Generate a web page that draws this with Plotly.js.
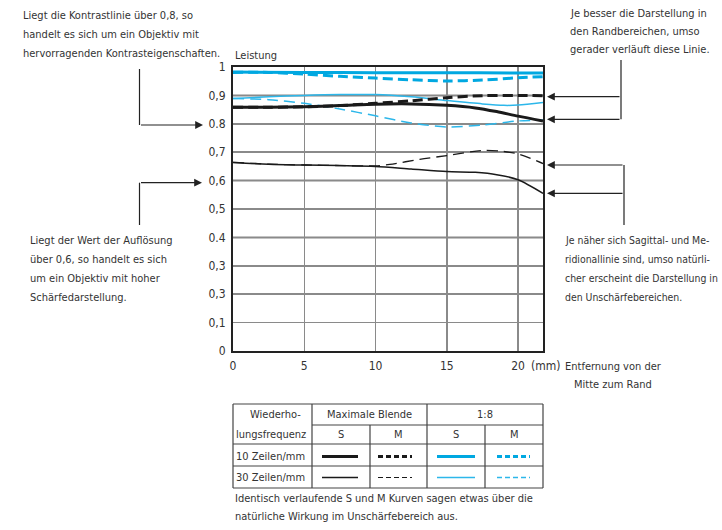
<!DOCTYPE html>
<html>
<head>
<meta charset="utf-8">
<script src="https://cdn.plot.ly/plotly-3.0.1.min.js"></script>
<style>html,body{margin:0;padding:0;background:#fff;}#chart{width:722px;height:530px;}</style>
</head>
<body>
<div id="chart"></div>
<script>
// ---- data ----
const xTicks = [0, 5, 10, 15, 20];
const xTickLabels = ["0", "5", "10", "15", "20"];
const yTicks = [0, 0.1, 0.2, 0.3, 0.4, 0.5, 0.6, 0.7, 0.8, 0.9, 1];
const yTickLabels = ["0", "0,1", "0,3", "0,3", "0.4", "0,5", "0,6", "0,7", "0.8", "0,9", "1"];
const blackGridY = [0.2, 0.4, 0.6, 0.8, 0.9];

const xS10max = [0, 2.5, 5, 7.5, 10, 12.5, 15, 17, 18.5, 20, 21.75];
const yS10max = [0.858, 0.858, 0.860, 0.864, 0.869, 0.870, 0.865, 0.856, 0.843, 0.827, 0.810];
const xM10max = [0, 2.5, 5, 7.5, 10, 12.5, 15, 17.5, 20, 21.75];
const yM10max = [0.858, 0.858, 0.860, 0.864, 0.872, 0.881, 0.892, 0.899, 0.900, 0.899];
const xS30max = [0, 2.5, 5, 7.5, 10, 12.5, 15, 17, 18.5, 20, 21.75];
const yS30max = [0.664, 0.658, 0.655, 0.653, 0.650, 0.641, 0.632, 0.629, 0.621, 0.603, 0.555];
const xM30max = [0, 2.5, 5, 7.5, 10, 11, 13.1, 15, 17.5, 18.7, 20, 21.75];
const yM30max = [0.664, 0.658, 0.655, 0.653, 0.652, 0.657, 0.675, 0.688, 0.706, 0.704, 0.694, 0.660];

const xS10f8 = [0, 5, 10, 15, 20, 21.75];
const yS10f8 = [0.982, 0.981, 0.980, 0.980, 0.979, 0.979];
const xM10f8 = [0, 2.5, 5, 7.5, 10, 12.5, 15, 17.5, 20, 21.75];
const yM10f8 = [0.981, 0.981, 0.975, 0.967, 0.961, 0.955, 0.951, 0.954, 0.962, 0.966];
const xS30f8 = [0, 2.5, 5, 7.5, 10, 12.5, 15, 17.5, 19, 20, 21.75];
const yS30f8 = [0.889, 0.895, 0.900, 0.903, 0.903, 0.895, 0.882, 0.870, 0.865, 0.866, 0.875];
const xM30f8 = [0, 2.5, 5, 7.5, 10, 12.5, 15, 17.5, 20, 21.75];
const yM30f8 = [0.889, 0.885, 0.872, 0.852, 0.828, 0.803, 0.789, 0.796, 0.810, 0.813];

// ---- styles ----
const FONT = "'DejaVu Sans Condensed', 'Liberation Sans Narrow', sans-serif";
const TXT = '#333333';
const BLACK = '#1a1a1a';
const CYAN = '#00a8e1';
const CYAN2 = '#2db7ea';
const DASH = '10px,5px';
const DASH2 = '11px,6px';
const FS = 11;

// plot area in pixels
const L = 233, R = 543, T = 67, B = 351;
const X = px => (px - L) / (R - L);
const Y = py => (B - py) / (B - T);

function tr(x, y, color, width, dash) {
  return {x: x, y: y, type: 'scatter', mode: 'lines',
    line: {color: color, width: width, dash: dash || 'solid', shape: 'spline', smoothing: 0.8},
    hoverinfo: 'skip', showlegend: false};
}

const data = [
  tr(xS30max, yS30max, BLACK, 1.5),
  tr(xM30max, yM30max, BLACK, 1.3, DASH2),
  tr(xM30f8, yM30f8, CYAN2, 1.5, DASH2),
  tr(xS30f8, yS30f8, CYAN2, 1.5),
  tr(xM10max, yM10max, BLACK, 3, DASH),
  tr(xS10max, yS10max, BLACK, 3),
  tr(xM10f8, yM10f8, CYAN, 3, DASH),
  tr(xS10f8, yS10f8, CYAN, 3)
];

const shapes = [];
const annotations = [];

// darker horizontal gridlines
blackGridY.forEach(v => shapes.push({type: 'line', xref: 'paper', yref: 'y', x0: 0, x1: 1, y0: v, y1: v,
  line: {color: '#111', width: 1.5}, layer: 'below'}));

function seg(x0, y0, x1, y1, color, width, dash) {
  shapes.push({type: 'line', xref: 'paper', yref: 'paper', x0: X(x0), y0: Y(y0), x1: X(x1), y1: Y(y1),
    line: {color: color || '#222', width: width || 1.2, dash: dash || 'solid'}});
}
function txt(s, x, y, xa, size) {
  annotations.push({text: s, xref: 'paper', yref: 'paper', x: X(x), y: Y(y), xanchor: xa || 'left', yanchor: 'middle',
    showarrow: false, font: {family: FONT, size: size || FS, color: TXT}});
}
function arrow(tipX, tipY, fromX) {
  annotations.push({text: '', xref: 'paper', yref: 'paper', x: X(tipX), y: Y(tipY), ax: fromX - tipX, ay: 0,
    showarrow: true, arrowhead: 2, arrowsize: 1.3, arrowwidth: 1.2, arrowcolor: '#222', standoff: 0});
}

// side texts
['Liegt die Kontrastlinie über 0,8, so', 'handelt es sich um ein Objektiv mit', 'hervorragenden Kontrasteigenschaften.']
  .forEach((s, i) => txt(s, 21, 16 + i * 18.5));
['Liegt der Wert der Auflösung', 'über 0,6, so handelt es sich', 'um ein Objektiv mit hoher', 'Schärfedarstellung.']
  .forEach((s, i) => txt(s, 28, 240 + i * 19));
['Je besser die Darstellung in', 'den Randbereichen, umso', 'gerader verläuft diese Linie.']
  .forEach((s, i) => txt(s, 568, 13 + i * 18.5));
['Je näher sich Sagittal- und Me-', 'ridionallinie sind, umso natürli-', 'cher erscheint die Darstellung in', 'den Unschärfebereichen.']
  .forEach((s, i) => txt(s, 563, 240 + i * 19, 'left', 10.4));

// arrows
seg(139.5, 69, 139.5, 125); arrow(203, 125, 139.5);
seg(139.5, 225, 139.5, 182.7); arrow(202, 182.7, 139.5);
seg(621, 60, 621, 119.3); arrow(547, 96.7, 621); arrow(547, 119.3, 621);
seg(624, 165, 624, 225); arrow(547, 165, 624); arrow(547, 193.3, 624);

// axis labels
txt('Leistung', 233, 55);
txt('(mm)', 529, 366, 'left', 12);
txt('Entfernung von der', 613, 366, 'center');
txt('Mitte zum Rand', 613, 384, 'center');

// legend table
const cols = [233, 312, 370, 427, 485, 543];
const rTop = 404, rMid = 425, rHead = 444, rRow = 466, rBot = 488;
const TC = '#444';
seg(cols[0], rTop, cols[5], rTop, TC, 1.2);
seg(cols[1], rMid, cols[5], rMid, TC, 1.2);
seg(cols[0], rHead, cols[5], rHead, TC, 1.2);
seg(cols[0], rRow, cols[5], rRow, TC, 1.2);
seg(cols[0], rBot, cols[5], rBot, TC, 1.2);
seg(cols[0], rTop, cols[0], rBot, TC, 1.2);
seg(cols[5], rTop, cols[5], rBot, TC, 1.2);
seg(cols[1], rTop, cols[1], rBot, TC, 1.2);
seg(cols[3], rTop, cols[3], rBot, TC, 1.2);
seg(cols[2], rMid, cols[2], rBot, TC, 1.2);
seg(cols[4], rMid, cols[4], rBot, TC, 1.2);

txt('Wiederho-', 303, 414, 'right');
txt('lungsfrequenz', 234, 434);
txt('Maximale Blende', (cols[1] + cols[3]) / 2, 414, 'center');
txt('1:8', (cols[3] + cols[5]) / 2, 414, 'center');
['S', 'M', 'S', 'M'].forEach((s, i) => txt(s, (cols[i + 1] + cols[i + 2]) / 2, 434, 'center'));
txt('10 Zeilen/mm', 234, 456);
txt('30 Zeilen/mm', 234, 477);
const sampleY = [456.5, 477.5];
const samples = [[BLACK, 3, BLACK, 3], [BLACK, 1.5, BLACK, 1.2]];
const samplesC = [[CYAN, 3, CYAN, 3], [CYAN2, 1.5, CYAN2, 1.3]];
for (let r = 0; r < 2; r++) {
  const yy = sampleY[r];
  seg(322, yy, 358, yy, samples[r][0], samples[r][1]);
  seg(378, yy, 412, yy, samples[r][2], samples[r][3], '5px,3px');
  seg(437, yy, 475, yy, samplesC[r][0], samplesC[r][1]);
  seg(497, yy, 530, yy, samplesC[r][2], samplesC[r][3], '5px,3px');
}
txt('Identisch verlaufende S und M Kurven sagen etwas über die', 233, 498);
txt('natürliche Wirkung im Unschärfebereich aus.', 233, 516);

const layout = {
  width: 722, height: 530,
  margin: {l: L, r: 722 - R, t: T, b: 530 - B, pad: 0},
  paper_bgcolor: '#fff', plot_bgcolor: '#fff',
  showlegend: false,
  font: {family: FONT, size: 12, color: TXT},
  xaxis: {range: [0, 21.75], tickvals: xTicks, ticktext: xTickLabels, showgrid: true, gridcolor: '#8a8a8a', gridwidth: 1.5,
    zeroline: false, showline: true, linecolor: '#222', linewidth: 2, mirror: true, ticks: '', ticklabelstandoff: 3,
    tickfont: {family: FONT, size: 12, color: TXT}, fixedrange: true},
  yaxis: {range: [0, 1], tickvals: yTicks, ticktext: yTickLabels, showgrid: true, gridcolor: '#8a8a8a', gridwidth: 1.5,
    zeroline: false, showline: true, linecolor: '#222', linewidth: 2, mirror: true, ticks: '', ticklabelstandoff: 3,
    tickfont: {family: FONT, size: 12, color: TXT}, fixedrange: true},
  shapes: shapes,
  annotations: annotations
};

Plotly.newPlot('chart', data, layout, {staticPlot: true, displayModeBar: false});
</script>
</body>
</html>
